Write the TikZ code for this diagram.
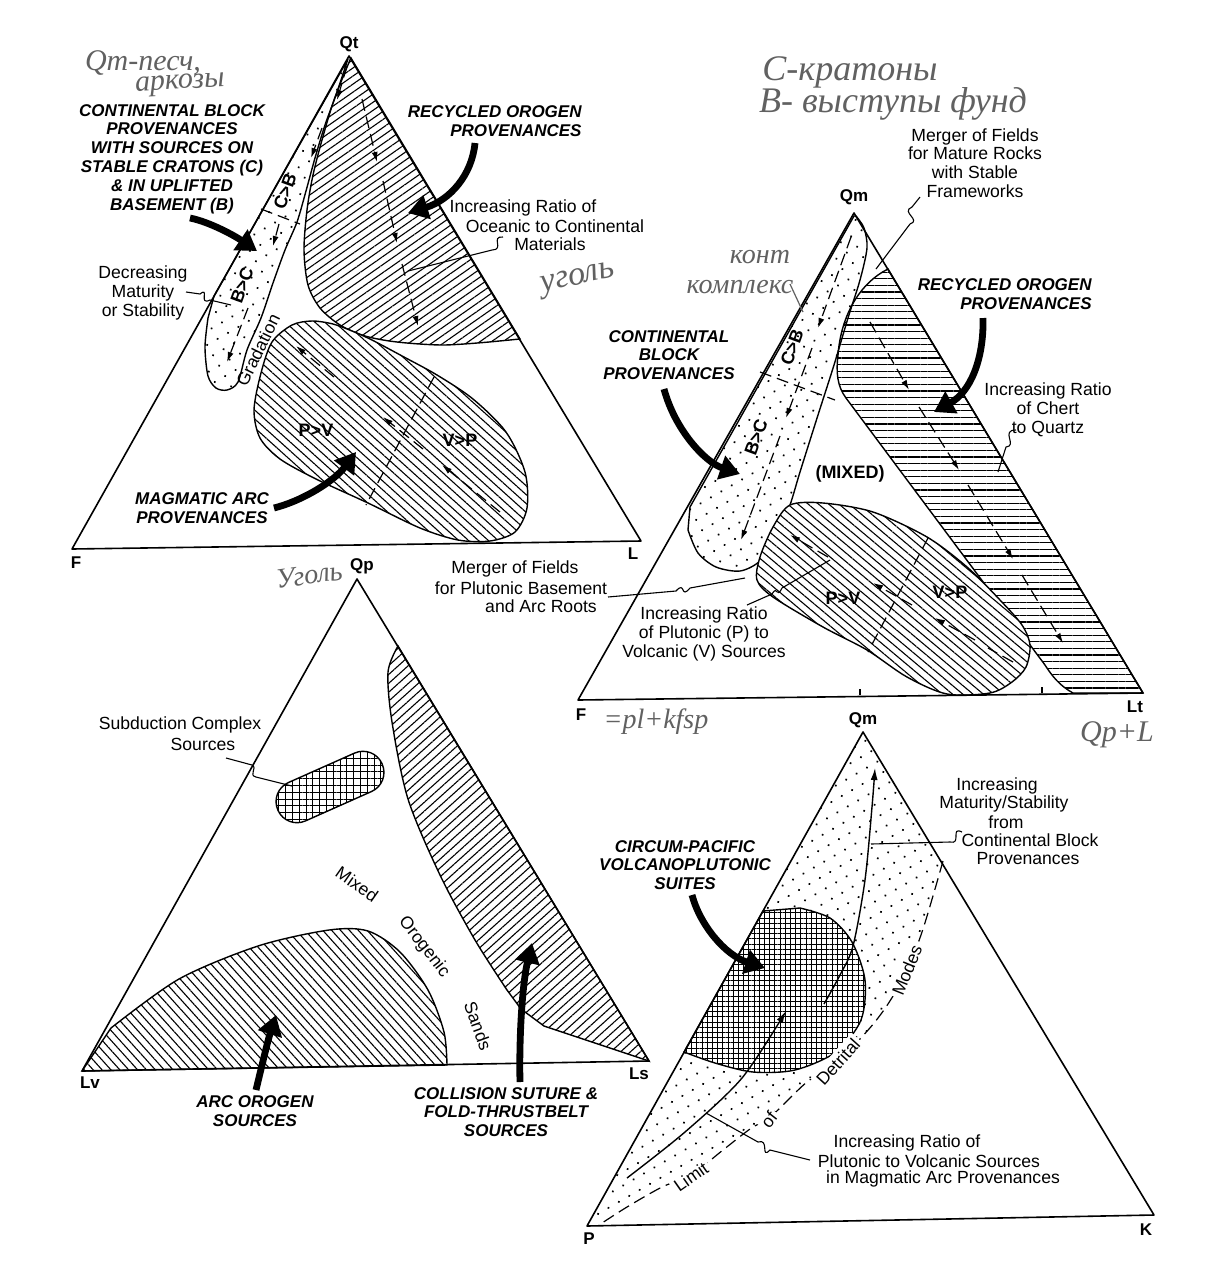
\documentclass[tikz,border=0pt]{standalone}
\usepackage{fontspec}
\setmainfont{Liberation Sans}
\newfontfamily\handfont{Liberation Serif}
\usetikzlibrary{patterns.meta,arrows.meta}
\tikzset{
  tri/.style={line width=0.8pt, line join=round},
  fld/.style={line width=0.7pt},
  dotp/.style={pattern={Dots[distance=6pt,radius=0.6pt,angle=30]}},
  hatchp/.style={pattern={Lines[angle=#1,distance=3.3pt,line width=0.55pt]}},
  gridp/.style={pattern={Hatch[angle=0,distance=#1,line width=0.5pt]}},
  lab/.style={font=\fontsize{8.8}{9.4}\selectfont, align=center, inner sep=0pt},
  head/.style={font=\fontsize{8.5}{9.4}\selectfont\bfseries\itshape, align=center, inner sep=0pt},
  vtx/.style={font=\fontsize{8.5}{9}\selectfont\bfseries, inner sep=0pt},
  pv/.style={font=\fontsize{9}{10}\selectfont\bfseries, inner sep=0pt},
  hand/.style={font=\handfont\itshape\fontsize{#1}{#1}\selectfont, text=black!62, inner sep=0pt},
  bigarr/.style={line width=3.4pt, -{Triangle[length=10pt,width=12pt]}},
  darr/.style={line width=0.6pt, dash pattern=on 6pt off 3pt, -{Latex[length=5pt,width=3pt]}},
  sarr/.style={line width=0.7pt, -{Latex[length=6pt,width=3.5pt]}},
  dln/.style={line width=0.6pt, dash pattern=on 6pt off 3pt},
  leader/.style={line width=0.55pt},
}
\begin{document}
\begin{tikzpicture}[x=0.5pt,y=-0.5pt]
\useasboundingbox (0,0) rectangle (1230,1282);
\fill[white] (0,0) rectangle (1230,1282);

% ================= T1 : Qt F L =================
\draw[fld,hatchp=35] (351,58) -- (520,339) -- plot[smooth] coordinates {(489,342) (443,345) (397,342) (365,336) (340,325) (320,308) (308,285) (304,250) (307,210) (313,175) (322,140) (334,100) (350,60)} -- cycle;
\draw[fld,dotp] (348,59) -- (214,296) -- plot[smooth] coordinates {(208,318) (205,347) (208,376) (216,388) (227,390) (238,382) (247,350) (261,318) (273,283) (285,250) (297,222) (306,191) (315,158) (325,125) (336,95) (347,62)} -- cycle;
\draw[fld,hatchp=-42,preaction={fill=white}] plot[smooth cycle] coordinates {(292,325) (312,321) (333,324) (352,331) (372,340) (404,357) (437,375) (473,399) (506,432) (525,472) (527,508) (515,532) (490,541) (458,540) (420,528) (368,503) (316,479) (280,459) (260,438) (254,410) (261,373) (272,342)};
\draw[tri] (349,56) -- (72,549) -- (641,541) -- cycle;
\node[vtx] (qt1) at (349,44) {Qt};
\node[vtx] (f1) at (76,563) {F};
\node[vtx] (l1) at (633,554) {L};
% band arrows
\draw[darr] (347,66) -- (337,100);
\draw[darr] (322,128) -- (311,158);
\draw[dln] (261,209) -- (300,224);
\draw[darr] (279,224) -- (273,246);
\draw[darr] (248,308) -- (227,362);
\node[pv,rotate=70] (cb1t) at (285,191) {C>B};
\node[pv,rotate=70] (bc1t) at (242,285) {B>C};
\node[lab,rotate=64] (grad1) at (258,350) {Gradation};
% recycled arrows
\draw[darr] (362,99) -- (377,162);
\draw[darr] (383,181) -- (397,243);
\draw[darr] (402,264) -- (418,326);
% magmatic
\draw[dln] (434,377) -- (366,505);
\draw[darr] (334,377) -- (296,346);
\draw[darr] (423,449) -- (383,417);
\draw[darr] (500,512) -- (442,465);
\node[pv] (pv1) at (316,430) {P>V};
\node[pv] (vp1) at (460,440) {V>P};
% texts
\node[head] (cb1) at (172,159) {CONTINENTAL BLOCK\\PROVENANCES\\WITH SOURCES ON\\STABLE CRATONS (C)\\\& IN UPLIFTED\\BASEMENT (B)};
\node[head,align=right,anchor=east] (ro1) at (582,121) {RECYCLED OROGEN\\PROVENANCES};
\node[lab] (inc1a) at (523,208) {Increasing Ratio of};
\node[lab] (inc1b) at (555,226) {Oceanic to Continental};
\node[lab] (inc1c) at (550,244) {Materials};
\node[lab] (dec1) at (143,293) {Decreasing\\Maturity\\or Stability};
\node[head] (ma1) at (202,508) {MAGMATIC ARC\\PROVENANCES};
\draw[bigarr] (190,218) .. controls (210,222) and (235,236) .. (257,251);
\draw[bigarr] (475,143) .. controls (472,175) and (450,200) .. (408,213);
\draw[bigarr] (274,508) .. controls (305,500) and (335,480) .. (356,452);
\draw[leader] (186,292) -- (200,294) .. controls (210,286) and (198,306) .. (210,300) -- (231,305);
\draw[leader] (503,237) .. controls (490,236) and (505,250) .. (492,250) -- (408,271);

% ================= T2 : Qm F Lt =================
\draw[fld,hatchp=0] (888,269) -- (1143,693) -- (1073,693) .. controls (1060,686) and (1052,676) .. (1045,665) -- (846,398) .. controls (837,386) and (836,372) .. (838,355) .. controls (841,315) and (860,283) .. (888,269) -- cycle;
\draw[fld,dotp] (854,216) -- (690,507) -- plot[smooth] coordinates {(688,530) (698,553) (716,567) (740,571) (760,561) (777,537) (790,505) (800,472) (818,415) (834,365) (848,318) (860,280) (867,248) (864,228) (856,216)} -- cycle;
\draw[fld,hatchp=-40,preaction={fill=white}] plot[smooth cycle] coordinates {(790,505) (823,503) (873,512) (927,537) (967,567) (1000,600) (1022,625) (1030,645) (1026,667) (1012,682) (990,693) (947,694) (907,677) (867,650) (823,627) (773,597) (757,580) (760,557) (773,527)};
\draw[tri] (854,213) -- (578,700) -- (1143,693) -- cycle;
\draw[line width=0.6pt] (860,695) -- (860,689) (1042,693) -- (1042,687);
\node[vtx] (qm2) at (854,197) {Qm};
\node[vtx] (f2) at (581,715) {F};
\node[vtx] (lt2) at (1135,707) {Lt};
% band
\draw[darr] (851,237) -- (818,328);
\draw[darr] (812,348) -- (786,418);
\draw[darr] (780,436) -- (741,540);
\draw[dln] (760,372) -- (835,400);
\node[pv,rotate=70] (cb2t) at (792,347) {C>B};
\node[pv,rotate=70] (bc2t) at (756,437) {B>C};
% recycled
\draw[darr] (870,322) -- (909,390);
\draw[darr] (919,407) -- (959,470);
\draw[darr] (968,485) -- (1013,559);
\draw[darr] (1022,575) -- (1063,643);
% magmatic
\draw[dln] (928,538) -- (868,652);
\draw[darr] (828,557) -- (790,535);
\draw[darr] (912,605) -- (873,583);
\draw[darr] (975,640) -- (935,618);
\draw[dln] (1013,662) -- (988,648);
\node[pv] (pv2) at (843,598) {P>V};
\node[pv] (vp2) at (950,592) {V>P};
\node[pv] (mix2) at (850,474) {(MIXED)};
% texts
\node[lab] (mf2) at (975,163) {Merger of Fields\\for Mature Rocks\\with Stable\\Frameworks};
\node[head,align=right,anchor=east] (ro2) at (1092,294) {RECYCLED OROGEN\\PROVENANCES};
\node[lab] (ch2) at (1048,410) {Increasing Ratio\\of Chert\\to Quartz};
\node[head] (cb2) at (669,355) {CONTINENTAL\\BLOCK\\PROVENANCES};
\node[lab] (ir2) at (704,634) {Increasing Ratio\\of Plutonic (P) to\\Volcanic (V) Sources};
\node[lab] (mb2a) at (515,569) {Merger of Fields};
\node[lab] (mb2b) at (521,588) {for Plutonic Basement};
\node[lab] (mb2c) at (541,606) {and Arc Roots};
\draw[bigarr] (664,389) .. controls (675,430) and (705,462) .. (740,474);
\draw[bigarr] (983,318) .. controls (984,360) and (970,392) .. (934,412);
\draw[leader] (920,197) -- (912,207) .. controls (900,212) and (922,220) .. (910,224) -- (876,269);
\draw[leader] (1016,430) .. controls (1000,430) and (1018,446) .. (1006,447) -- (998,472);
\draw[leader] (608,597) -- (676,591) .. controls (686,580) and (680,600) .. (690,588) -- (745,578);
\draw[leader] (747,605) -- (772,594) .. controls (778,584) and (776,600) .. (782,588) -- (830,560);

% ================= T3 : Qp Lv Ls =================
\draw[fld,hatchp=42] (398,646) -- (649,1061) -- (544,1026) -- (521,1009) -- plot[smooth] coordinates {(507,990) (475,940) (440,875) (408,799) (392,722) (388,672) (398,646)} -- cycle;
\draw[fld,hatchp=-48] (82,1071) -- plot[smooth] coordinates {(111,1028) (179,979) (258,946) (329,930) (368,931) (400,952) (428,990) (444,1032) (447,1065)} -- cycle;
\draw[fld,gridp=3.4pt,rounded corners=10.4pt,rotate around={24:(330,787)}] (273,766) rectangle (387,808);
\draw[tri] (357,579) -- (82,1071) -- (649,1061) -- cycle;
\node[vtx] (qp3) at (362,566) {Qp};
\node[vtx] (lv3) at (90,1083) {Lv};
\node[vtx] (ls3) at (639,1074) {Ls};
\node[lab] (sc3a) at (180,725) {Subduction Complex};
\node[lab] (sc3b) at (203,744) {Sources};
\draw[leader] (226,758) -- (252,765) .. controls (258,768) and (248,775) .. (256,777) -- (292,786);
\node[lab,rotate=-35] (mx3) at (357,884) {Mixed};
\node[lab,rotate=-52] (or3) at (424,947) {Orogenic};
\node[lab,rotate=-70] (sd3) at (478,1026) {Sands};
\node[head] (ao3) at (255,1111) {ARC OROGEN\\SOURCES};
\node[head] (cs3) at (506,1112) {COLLISION SUTURE \&\\FOLD-THRUSTBELT\\SOURCES};
\draw[bigarr] (256,1090) .. controls (262,1065) and (268,1040) .. (276,1015);
\draw[bigarr] (520,1082) .. controls (519,1040) and (522,985) .. (532,943);

% ================= T4 : Qm P K =================
\fill[dotp] (863,732) -- (943,861) -- plot[smooth] coordinates {(935,889) (922,932) (907,971) (888,1004) (869,1029) (838,1061) (807,1082) (784,1104) (769,1118) (750,1129) (723,1150) (691,1175) (662,1187) (627,1207) (599,1225)} -- (587,1226) -- cycle;
\draw[fld,pattern={Hatch[angle=0,distance=2.6pt,line width=0.4pt]},preaction={fill=white}] (763,911) -- plot[smooth] coordinates {(800,908) (830,918) (852,942) (865,980) (861,1020) (836,1052) (795,1070) (753,1072) (715,1063) (684,1052)} -- cycle;
\draw[dln] plot[smooth] coordinates {(943,861) (935,889) (922,932) (907,971) (888,1004) (869,1029) (838,1061) (807,1082) (784,1104) (769,1118) (750,1129) (723,1150) (691,1175) (662,1187) (627,1207) (599,1225)};
\draw[tri] (863,732) -- (587,1226) -- (1154,1215) -- cycle;
\node[vtx] (qm4) at (863,720) {Qm};
\node[vtx] (p4) at (589,1239) {P};
\node[vtx] (k4) at (1146,1230) {K};
\draw[sarr] plot[smooth] coordinates {(824,1004) (840,975) (853,946) (865,880) (872,807) (875,768)};
\draw[sarr] plot[smooth] coordinates {(627,1178) (685,1132) (742,1078) (786,1011)};
\node[lab,rotate=35,fill=white,inner sep=1.5pt] (lim4) at (691,1177) {Limit};
\node[lab,rotate=52,fill=white,inner sep=1.5pt] (of4) at (769,1120) {of};
\node[lab,rotate=48,fill=white,inner sep=1.5pt] (det4) at (838,1062) {Detrital};
\node[lab,rotate=68,fill=white,inner sep=1.5pt] (mod4) at (907,970) {Modes};
\node[head] (cp4) at (685,865) {CIRCUM-PACIFIC\\VOLCANOPLUTONIC\\SUITES};
\draw[bigarr] (692,895) .. controls (700,925) and (725,955) .. (765,968);
\node[lab] (im4a) at (997,786) {Increasing};
\node[lab] (im4b) at (1004,804) {Maturity/Stability};
\node[lab] (im4c) at (1006,822) {from};
\node[lab] (im4d) at (1030,840) {Continental Block};
\node[lab] (im4e) at (1028,859) {Provenances};
\draw[leader] (962,832) .. controls (950,826) and (962,845) .. (950,842) -- (871,844);
\node[lab] (ip4a) at (907,1143) {Increasing Ratio of};
\node[lab] (ip4b) at (929,1161) {Plutonic to Volcanic Sources};
\node[lab] (ip4c) at (943,1179) {in Magmatic Arc Provenances};
\draw[leader] (810,1160) -- (770,1150) .. controls (760,1160) and (770,1138) .. (758,1142) -- (706,1113);

% ================= handwritten notes =================
\node[hand=15] (h1) at (143,63) {Qm-песч,};
\node[hand=15,rotate=3] (h2) at (180,85) {аркозы};
\node[hand=18] (h3) at (850,72) {С-кратоны};
\node[hand=18] (h4) at (893,104) {В- выступы фунд};
\node[hand=17,rotate=12] (h5) at (578,280) {уголь};
\node[hand=14] (h6) at (760,257) {конт};
\node[hand=14] (h7) at (740,287) {комплекс};
\draw[black!62,line width=0.6pt] (790,284) -- (803,312);
\node[hand=14,rotate=8] (h8) at (309,575) {Уголь};
\node[hand=14] (h9) at (656,722) {=pl+kfsp};
\node[hand=15] (h10) at (1117,735) {Qp+L};
\end{tikzpicture}
\end{document}
